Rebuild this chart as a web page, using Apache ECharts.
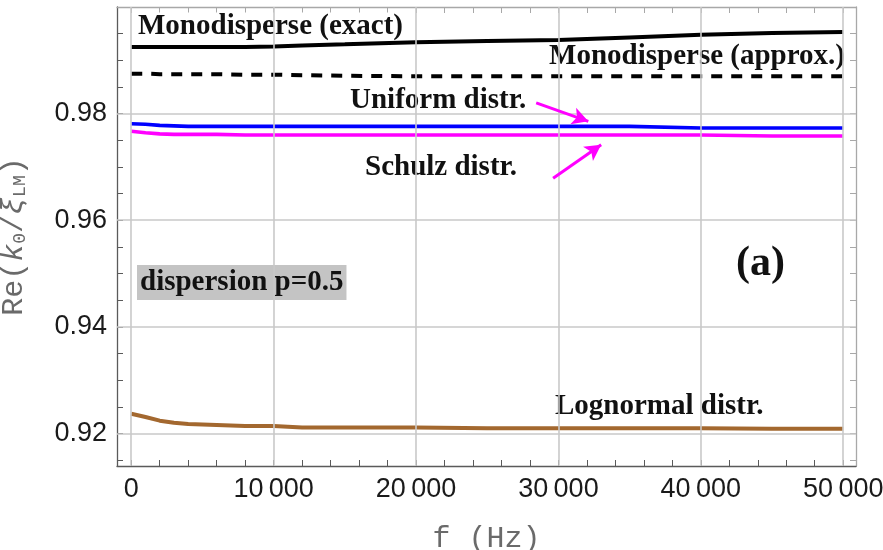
<!DOCTYPE html>
<html>
<head>
<meta charset="utf-8">
<script src="https://cdn.jsdelivr.net/npm/echarts@6/dist/echarts.min.js"></script>
<style>
  html, body { margin: 0; padding: 0; background: #fff; }
  #chart { width: 883px; height: 550px; }
</style>
</head>
<body>
<div id="chart"></div>
<script>
// frequency samples (Hz)
const freq = [0, 1000, 2000, 3000, 4000, 6000, 8000, 10000, 12000, 15000, 20000, 25000, 30000, 35000, 40000, 45000, 50000];

// Re(k0/xi_LM)
const monoExact  = [0.9925, 0.9925, 0.9925, 0.9925, 0.9925, 0.9925, 0.9925, 0.9926, 0.9928, 0.9930, 0.9934, 0.9936, 0.9938, 0.9943, 0.9948, 0.9951, 0.9953];
const monoApprox = [0.9875, 0.9875, 0.9874, 0.9874, 0.9874, 0.9874, 0.9873, 0.9873, 0.9872, 0.9871, 0.9870, 0.9870, 0.9870, 0.9870, 0.9870, 0.9870, 0.9870];
const uniform    = [0.9781, 0.9780, 0.9778, 0.9777, 0.9776, 0.9776, 0.9776, 0.9776, 0.9776, 0.9776, 0.9776, 0.9776, 0.9776, 0.9776, 0.9773, 0.9773, 0.9773];
const schulz     = [0.9767, 0.9764, 0.9762, 0.9761, 0.9761, 0.9761, 0.9760, 0.9760, 0.9760, 0.9760, 0.9760, 0.9760, 0.9760, 0.9760, 0.9760, 0.9758, 0.9758];
const lognormal  = [0.9237, 0.9231, 0.9224, 0.9220, 0.9218, 0.9216, 0.9214, 0.9214, 0.9211, 0.9211, 0.9211, 0.9210, 0.9210, 0.9210, 0.9210, 0.9209, 0.9209];

// ticks
const xMajor = [0, 10000, 20000, 30000, 40000, 50000];
const xTicks = [0, 2000, 4000, 6000, 8000, 10000, 12000, 14000, 16000, 18000, 20000, 22000, 24000, 26000, 28000, 30000,
                32000, 34000, 36000, 38000, 40000, 42000, 44000, 46000, 48000, 50000];
const yMajor = [0.92, 0.94, 0.96, 0.98];
const yTicks = [0.915, 0.92, 0.925, 0.93, 0.935, 0.94, 0.945, 0.95, 0.955, 0.96, 0.965, 0.97, 0.975, 0.98, 0.985, 0.99, 0.995];

// arrows pointing at the uniform / schulz curves, in data units
const uniformArrow = [[28440, 0.9820], [32100, 0.97855]];
const schulzArrow  = [[29630, 0.96787], [33000, 0.97415]];

const pts = arr => freq.map((f, i) => [f, arr[i]]);

const chart = echarts.init(document.getElementById('chart'), null, { renderer: 'canvas' });

const tickFont = { fontFamily: 'Liberation Sans', fontSize: 27, color: '#1a1a1a' };
const frameDark = '#5a5a5a';
const frameLight = '#a8a8a8';

const axisBase = (pos, color) => ({
  position: pos,
  axisLine: { show: true, onZero: false, lineStyle: { color: color, width: 1.3 } },
  splitLine: { show: false },
});

const serifBold = size => 'bold ' + size + 'px "Liberation Serif", "DejaVu Serif", serif';

const textEl = (text, x, y, opts) => Object.assign({
  type: 'text',
  x: x, y: y, z: 1,
  style: Object.assign({
    text: text,
    font: serifBold(29),
    fill: '#111',
    verticalAlign: 'middle',
    backgroundColor: '#fff',
    padding: [0, 2, 0, 2]
  }, opts || {})
});

chart.setOption({
  animation: false,
  backgroundColor: '#fff',
  grid: { left: 117, right: 27, top: 7, bottom: 84, containLabel: false, outerBoundsMode: 'none' },
  xAxis: [
    Object.assign(axisBase('bottom', frameDark), {
      type: 'value', min: -1000, max: 50900,
      axisTick: { show: true, inside: true, length: 6, customValues: xTicks, lineStyle: { color: frameDark } },
      axisLabel: {
        show: true, customValues: xMajor, margin: 10, ...tickFont,
        formatter: v => String(v).replace(/(\d)(?=(\d{3})+$)/g, '$1\u2009')
      },
      name: 'f (Hz)', nameLocation: 'middle', nameGap: 58,
      nameTextStyle: { fontFamily: 'Liberation Mono', fontSize: 30, color: '#6a6a6a' }
    }),
    Object.assign(axisBase('top', frameLight), {
      type: 'value', min: -1000, max: 50900,
      axisTick: { show: true, inside: true, length: 6, customValues: xTicks, lineStyle: { color: frameLight } },
      axisLabel: { show: false }
    })
  ],
  yAxis: [
    Object.assign(axisBase('left', frameDark), {
      type: 'value', min: 0.9139, max: 1.0,
      axisTick: { show: true, inside: true, length: 6, customValues: yTicks, lineStyle: { color: frameDark } },
      axisLabel: {
        show: true, customValues: yMajor, margin: 10, ...tickFont,
        formatter: v => v.toFixed(2)
      },
      name: '{n|Re(}{i|k}{s|0}{n|/}{i|ξ}{s|LM}{n|)}',
      nameLocation: 'middle', nameGap: 88,
      nameTextStyle: {
        rich: {
          n: { fontFamily: 'Liberation Mono', fontSize: 30, color: '#6a6a6a', lineHeight: 34, verticalAlign: 'bottom' },
          i: { fontFamily: 'Liberation Mono', fontSize: 30, fontStyle: 'italic', color: '#6a6a6a', lineHeight: 34, verticalAlign: 'bottom' },
          s: { fontFamily: 'Liberation Mono', fontSize: 18, color: '#6a6a6a', lineHeight: 14, verticalAlign: 'bottom' }
        }
      }
    }),
    Object.assign(axisBase('right', frameLight), {
      type: 'value', min: 0.9139, max: 1.0,
      axisTick: { show: true, inside: true, length: 6, customValues: yTicks, lineStyle: { color: frameLight } },
      axisLabel: { show: false }
    })
  ],
  series: [
    {
      // grid lines at the major ticks
      name: 'grid', type: 'line', data: [], z: 0, silent: true,
      markLine: {
        silent: true, symbol: ['none', 'none'], label: { show: false },
        lineStyle: { color: '#c9c9c9', width: 1.6, type: 'solid' },
        data: xMajor.map(v => ({ xAxis: v })).concat(yMajor.map(v => ({ yAxis: v })))
      }
    },
    {
      name: 'Monodisperse (exact)', type: 'line', data: pts(monoExact), z: 3,
      showSymbol: false, lineStyle: { color: '#000', width: 4 }
    },
    {
      name: 'Monodisperse (approx.)', type: 'line', data: pts(monoApprox), z: 3,
      showSymbol: false, lineStyle: { color: '#000', width: 4, type: [11, 9] }
    },
    {
      name: 'Uniform distr.', type: 'line', data: pts(uniform), z: 3,
      showSymbol: false, lineStyle: { color: '#0000ff', width: 3.6 }
    },
    {
      name: 'Schulz distr.', type: 'line', data: pts(schulz), z: 3,
      showSymbol: false, lineStyle: { color: '#ff00ff', width: 3.6 },
      markLine: {
        silent: true, symbol: ['none', 'arrow'], symbolSize: [13, 16], label: { show: false },
        lineStyle: { color: '#ff00ff', width: 3, type: 'solid' },
        data: [
          [{ coord: uniformArrow[0] }, { coord: uniformArrow[1] }],
          [{ coord: schulzArrow[0] }, { coord: schulzArrow[1] }]
        ]
      }
    },
    {
      name: 'Lognormal distr.', type: 'line', data: pts(lognormal), z: 3,
      showSymbol: false, lineStyle: { color: '#a3682f', width: 4 }
    }
  ],
  graphic: [
    textEl('Monodisperse (exact)', 136, 27),
    textEl('Monodisperse (approx.)', 847, 57, { align: 'right' }),
    textEl('Uniform distr.', 348, 101),
    textEl('Schulz distr.', 363, 168),
    textEl('Lognormal distr.', 553, 407),
    textEl('dispersion p=0.5', 137, 282.5, { backgroundColor: '#c4c4c4', padding: [3, 3, 3, 3] }),
    textEl('(a)', 736, 264, { font: serifBold(42), backgroundColor: 'transparent', padding: 0 })
  ]
});
</script>
</body>
</html>
